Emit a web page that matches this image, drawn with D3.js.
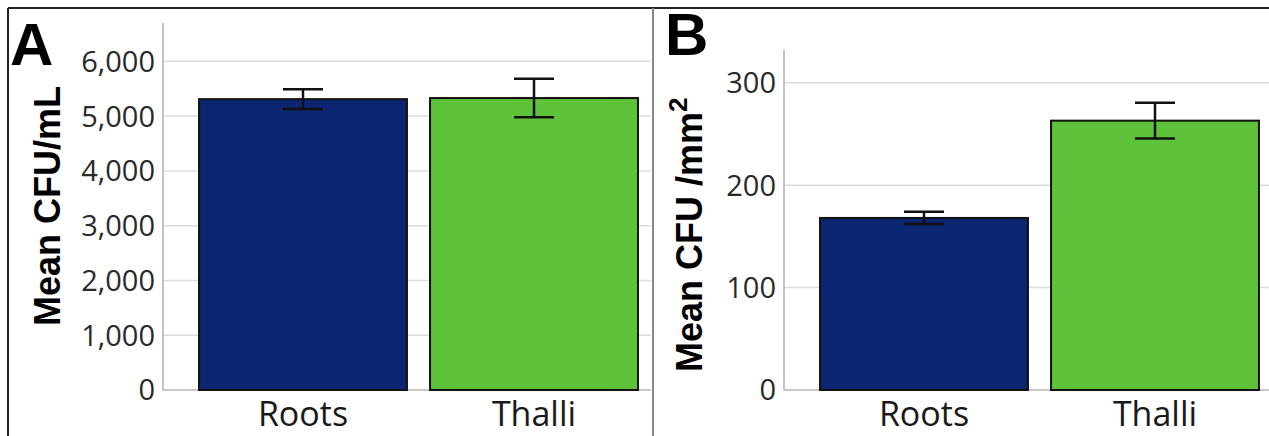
<!DOCTYPE html>
<html>
<head>
<meta charset="utf-8">
<script src="https://cdn.jsdelivr.net/npm/d3@7"></script>
<style>
  body { margin: 0; background: #fff; }
  svg { display: block; }
  .tick-label { font-family: "Open Sans", sans-serif; font-size: 29px; fill: #2a2a2a; }
  .cat-label { font-family: "Open Sans", sans-serif; font-size: 34px; fill: #1a1a1a; }
  .ytitle { font-family: "Liberation Sans", Arial, sans-serif; font-size: 36px; font-weight: bold; fill: #000; }
  .panel-letter { font-family: "Liberation Sans", Arial, sans-serif; font-size: 60px; font-weight: bold; fill: #000; }
</style>
</head>
<body>
<script>
let width = 1269,
    height = 436;

let categories = ["Roots", "Thalli"];
let barColors = ["#0c2571", "#5ec23a"];

// panel A: CFU/mL
let meansA = [5310, 5330];
let errA = [180, 350];
let ticksA = [0, 1000, 2000, 3000, 4000, 5000, 6000];
let maxA = 6700;

// panel B: CFU/mm2
let meansB = [168, 263];
let errB = [6, 17.5];
let ticksB = [0, 100, 200, 300];
let maxB = 332;

let svg = d3.select('body').append('svg')
    .attr('width', width)
    .attr('height', height);

// frame: top + left border, divider between panels
svg.append('line').attr('x1', 8).attr('x2', width).attr('y1', 8).attr('y2', 8)
    .attr('stroke', '#222').attr('stroke-width', 2);
svg.append('line').attr('x1', 8).attr('x2', 8).attr('y1', 8).attr('y2', height)
    .attr('stroke', '#222').attr('stroke-width', 2);
svg.append('line').attr('x1', 653).attr('x2', 653).attr('y1', 8).attr('y2', height)
    .attr('stroke', '#888').attr('stroke-width', 2);

function drawPanel(p) {
    let g = svg.append('g');

    let y = d3.scaleLinear().domain([0, p.max]).range([390, p.top]);
    let x = d3.scaleBand().domain(categories)
        .range([p.left, p.left + 511])
        .paddingInner(0.1).paddingOuter(0.156);

    // gridlines
    g.selectAll('line.grid').data(p.ticks).enter().append('line')
        .attr('class', 'grid')
        .attr('x1', p.left).attr('x2', p.gridEnd)
        .attr('y1', d => y(d)).attr('y2', d => y(d))
        .attr('stroke', d => d === 0 ? '#b5b5b5' : '#dcdcdc')
        .attr('stroke-width', 1.5);

    // y axis line
    g.append('line')
        .attr('x1', p.left).attr('x2', p.left)
        .attr('y1', y(p.max)).attr('y2', y(0))
        .attr('stroke', '#b0b0b0').attr('stroke-width', 1.5);

    // tick labels
    g.selectAll('text.tick-label').data(p.ticks).enter().append('text')
        .attr('class', 'tick-label')
        .attr('x', p.left - 8)
        .attr('y', d => y(d))
        .attr('dy', '0.36em')
        .attr('text-anchor', 'end')
        .text(d => d3.format(',')(d));

    // bars
    g.selectAll('rect.bar').data(categories).enter().append('rect')
        .attr('class', 'bar')
        .attr('x', d => x(d))
        .attr('width', x.bandwidth())
        .attr('y', (d, i) => y(p.means[i]))
        .attr('height', (d, i) => y(0) - y(p.means[i]))
        .attr('fill', (d, i) => barColors[i])
        .attr('stroke', '#111').attr('stroke-width', 2);

    // error bars
    let capW = 40;
    categories.forEach((c, i) => {
        let cx = x(c) + x.bandwidth() / 2;
        let hi = y(p.means[i] + p.errs[i]),
            lo = y(p.means[i] - p.errs[i]);
        let eg = g.append('g').attr('stroke', '#111').attr('stroke-width', 2.5);
        eg.append('line').attr('x1', cx).attr('x2', cx).attr('y1', hi).attr('y2', lo);
        eg.append('line').attr('x1', cx - capW / 2).attr('x2', cx + capW / 2).attr('y1', hi).attr('y2', hi);
        eg.append('line').attr('x1', cx - capW / 2).attr('x2', cx + capW / 2).attr('y1', lo).attr('y2', lo);
    });

    // category labels
    g.selectAll('text.cat-label').data(categories).enter().append('text')
        .attr('class', 'cat-label')
        .attr('x', d => x(d) + x.bandwidth() / 2)
        .attr('y', 426)
        .attr('text-anchor', 'middle')
        .text(d => d);

    // y title
    let t = g.append('text')
        .attr('class', 'ytitle')
        .attr('transform', 'translate(' + p.titleX + ',' + p.titleY + ') rotate(-90)')
        .attr('text-anchor', 'start')
        .text(p.title);
    if (p.sup) {
        t.append('tspan').attr('baseline-shift', 'super').attr('font-size', '26px').text(p.sup);
    }

    // panel letter
    g.append('text')
        .attr('class', 'panel-letter')
        .attr('x', p.letterX).attr('y', p.letterY)
        .text(p.letter);
}

drawPanel({
    means: meansA, errs: errA, ticks: ticksA, max: maxA,
    left: 163, top: 23, gridEnd: 651,
    title: 'Mean CFU/mL', titleX: 60, titleY: 326,
    letter: 'A', letterX: 10, letterY: 65
});

drawPanel({
    means: meansB, errs: errB, ticks: ticksB, max: maxB,
    left: 784, top: 50, gridEnd: width,
    title: 'Mean CFU /mm', sup: '2', titleX: 702, titleY: 372,
    letter: 'B', letterX: 665, letterY: 55
});
</script>
</body>
</html>
